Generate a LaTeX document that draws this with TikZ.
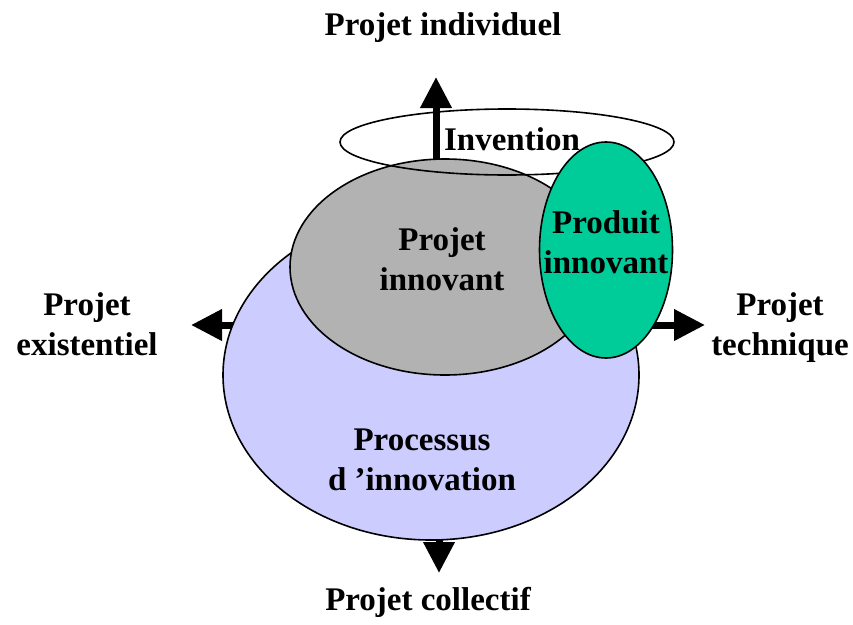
\documentclass[tikz,border=0pt]{standalone}
\usepackage{fontspec}
\setmainfont{Liberation Serif}
\usetikzlibrary{arrows.meta,shapes.geometric}
\definecolor{grayfill}{RGB}{178,178,178}
\definecolor{lavender}{RGB}{204,204,255}
\definecolor{greenfill}{RGB}{0,204,153}
\tikzset{
  blob/.style={ellipse, draw=black, line width=1.6pt, inner sep=0pt, outer sep=0pt},
  lbl/.style={font=\bfseries\fontsize{33}{40}\selectfont, align=center, anchor=base, inner sep=0pt},
  bigarrow/.style={line width=7pt, -{Triangle[length=31pt,width=30pt]}}
}
\begin{document}
\begin{tikzpicture}[x=1pt,y=-1pt]
\useasboundingbox (0,0) rectangle (853,624);
% arrow anchors
\coordinate (cv) at (437,325);
\coordinate (tipU) at (436,77);
\coordinate (tipD) at (439,573);
\coordinate (tipL) at (191,325);
\coordinate (tipR) at (705,325);
\coordinate (cu) at (436,300);
\coordinate (cd) at (439,350);
\draw[bigarrow] (cu) -- (tipU);
\draw[bigarrow] (cd) -- (tipD);
\draw[bigarrow] (cv) -- (tipL);
\draw[bigarrow] (cv) -- (tipR);
% ellipses
\node[blob, fill=lavender, minimum width=416pt, minimum height=330pt] (proc) at (431,375) {};
\node[blob, fill=grayfill, minimum width=310pt, minimum height=216pt] (pinn) at (445,267) {};
\node[blob, minimum width=334pt, minimum height=66pt] (inv) at (507,142) {};
\node[blob, fill=greenfill, minimum width=133pt, minimum height=216pt] (prod) at (606,250) {};
% texts
\node[lbl] (tInv) at (512,150) {Invention};
\node[lbl] (tPinn) at (442,290) {Projet\\innovant};
\node[lbl] (tProd) at (606,273) {Produit\\innovant};
\node[lbl] (tProc) at (422,490) {Processus\\d ’innovation};
\node[lbl] (tInd) at (443,35) {Projet individuel};
\node[lbl] (tExi) at (87,355) {Projet\\existentiel};
\node[lbl] (tTec) at (780,355) {Projet\\technique};
\node[lbl] (tCol) at (428,610) {Projet collectif};
\end{tikzpicture}
\end{document}
